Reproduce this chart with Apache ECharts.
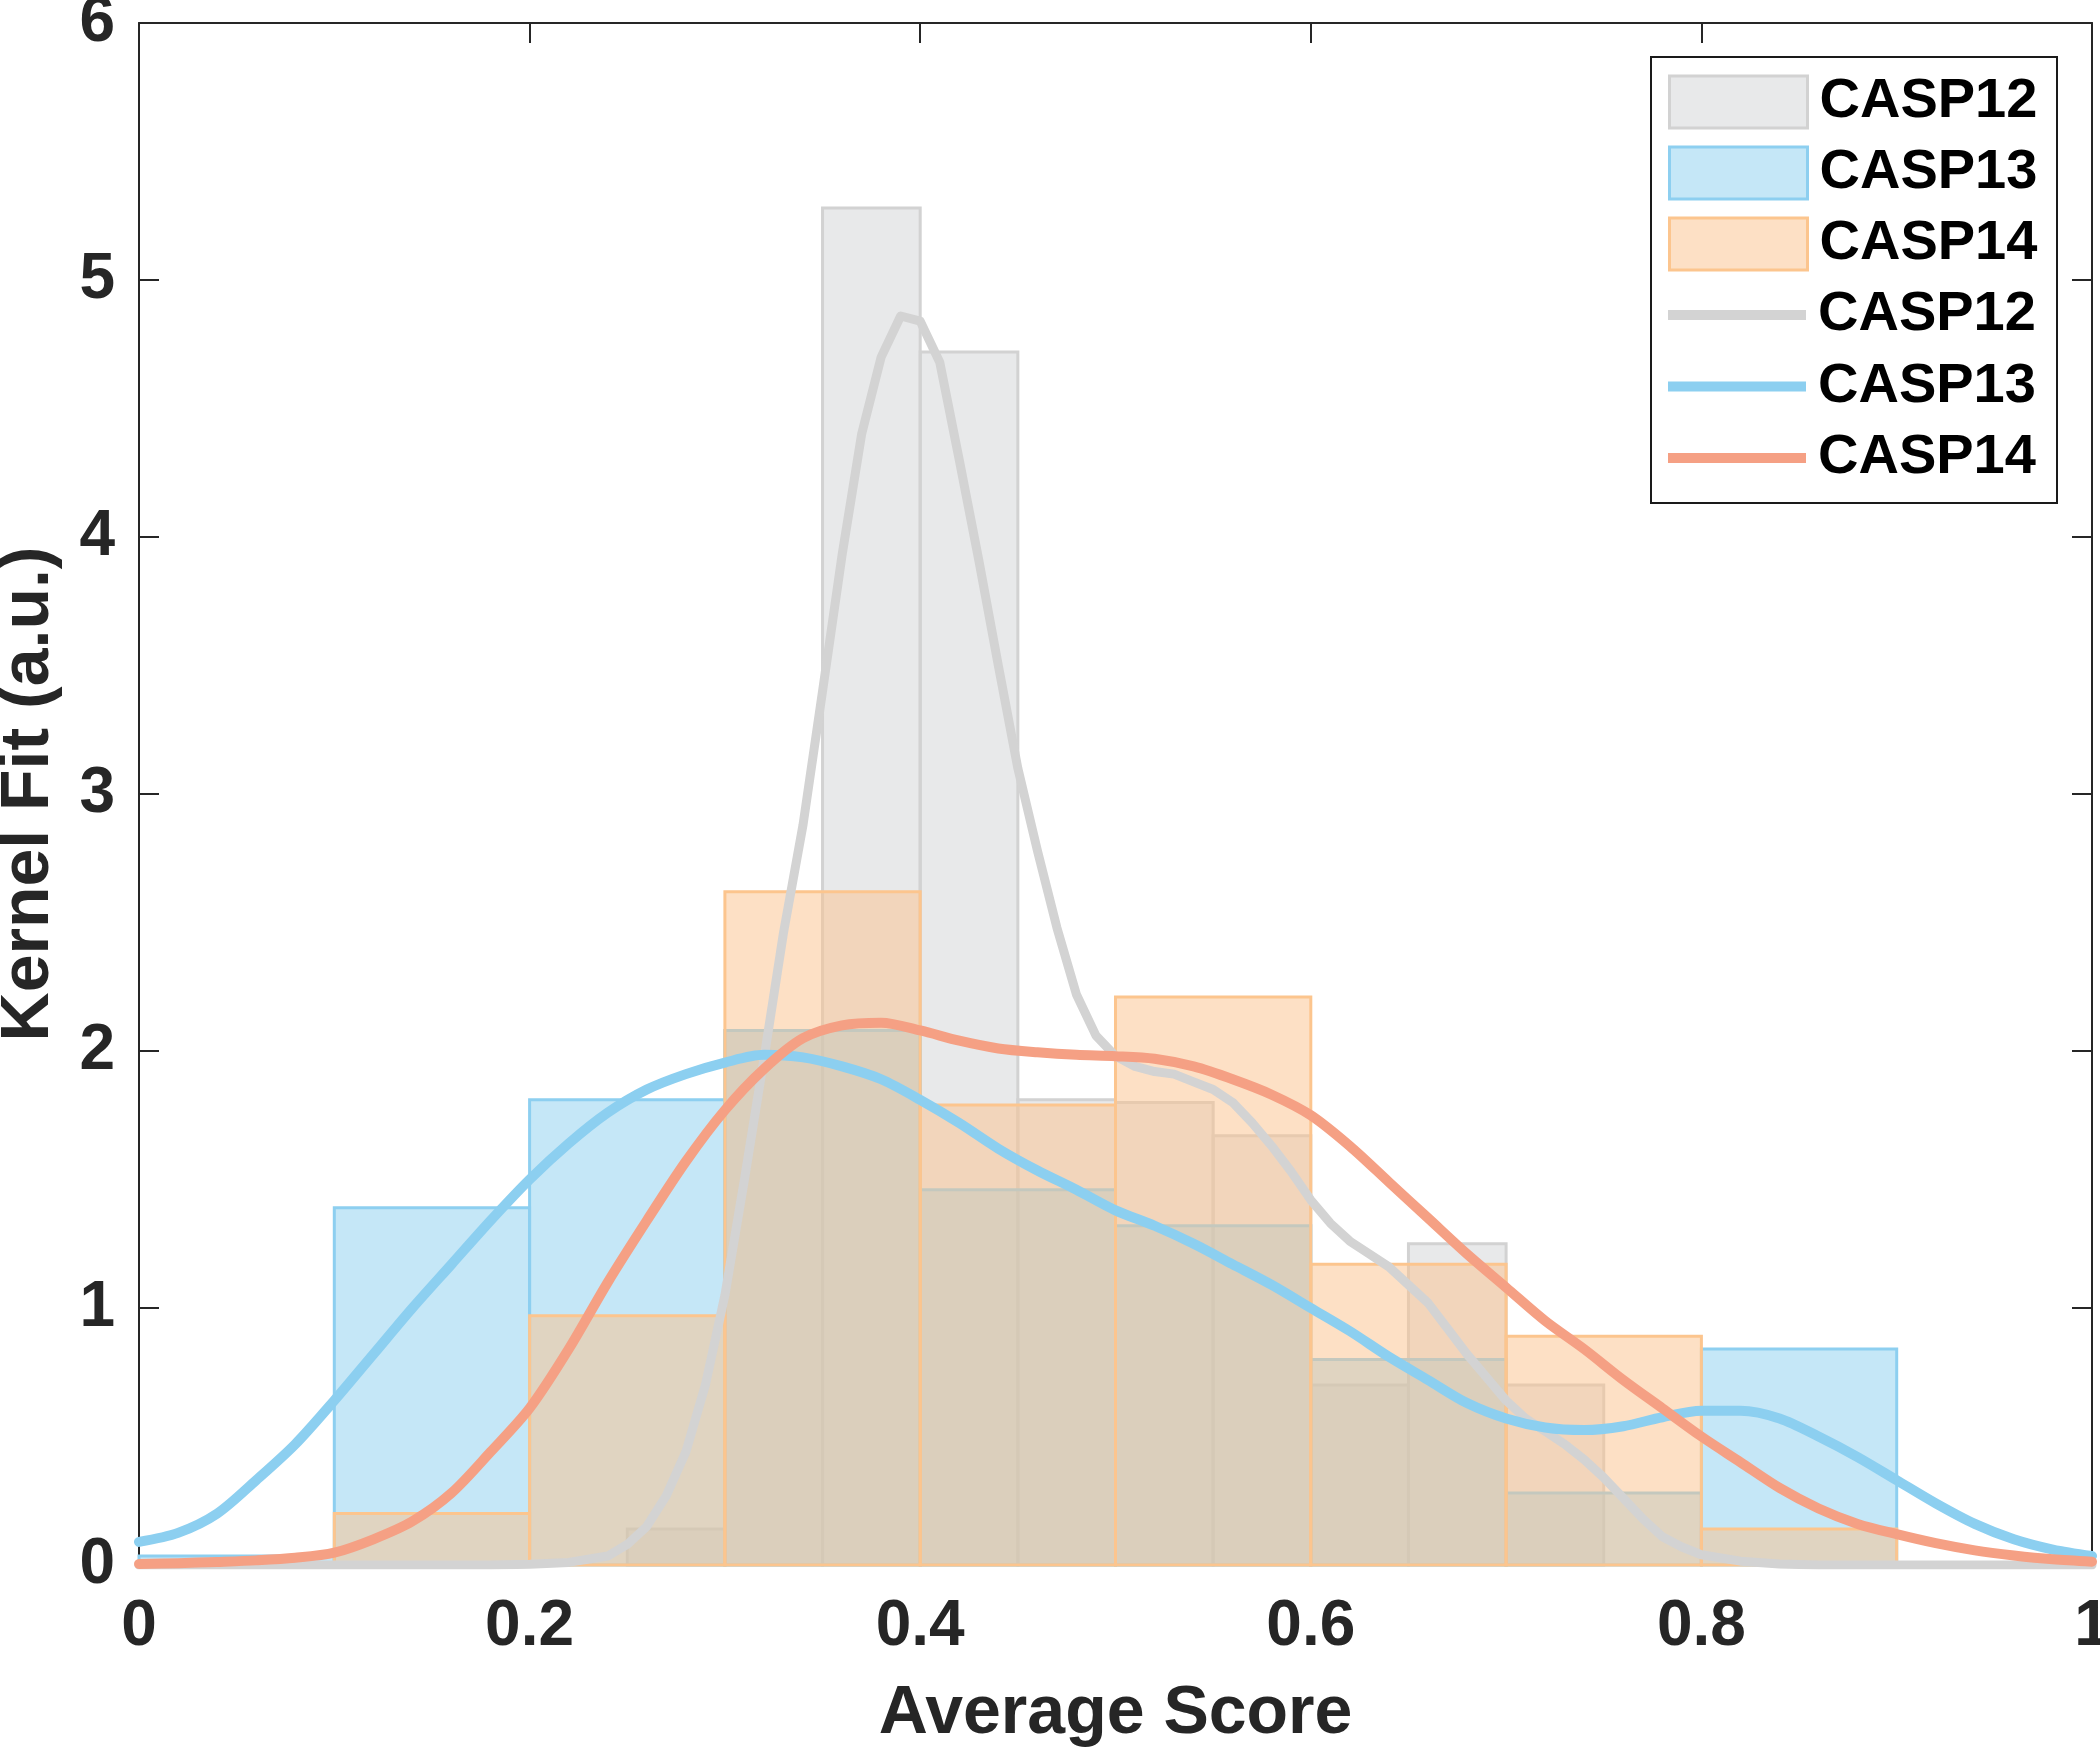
<!DOCTYPE html>
<html>
<head>
<meta charset="utf-8">
<script src="https://cdn.jsdelivr.net/npm/echarts/dist/echarts.min.js"></script>
<style>html,body{margin:0;padding:0;background:#fff;}#chart{width:2100px;height:1754px;}</style>
</head>
<body>
<div id="chart"></div>
<script>
// ---------- data ----------
// Histograms: bin left edges, bin right edges, heights (pdf)
const casp12BinLo = [0.25, 0.30, 0.35, 0.40, 0.45, 0.50, 0.55, 0.60, 0.65, 0.70];
const casp12BinHi = [0.30, 0.35, 0.40, 0.45, 0.50, 0.55, 0.60, 0.65, 0.70, 0.75];
const casp12Hist  = [0.14, 2.08, 5.28, 4.72, 1.81, 1.80, 1.67, 0.70, 1.25, 0.70];

const casp13BinLo = [0.0, 0.1, 0.2, 0.3, 0.4, 0.5, 0.6, 0.7, 0.8];
const casp13BinHi = [0.1, 0.2, 0.3, 0.4, 0.5, 0.6, 0.7, 0.8, 0.9];
const casp13Hist  = [0.035, 1.39, 1.81, 2.08, 1.46, 1.32, 0.80, 0.28, 0.84];

const casp14BinLo = [0.1, 0.2, 0.3, 0.4, 0.5, 0.6, 0.7, 0.8];
const casp14BinHi = [0.2, 0.3, 0.4, 0.5, 0.6, 0.7, 0.8, 0.9];
const casp14Hist  = [0.20, 0.97, 2.62, 1.79, 2.21, 1.17, 0.89, 0.14];

// Kernel fits
const kde12X = [0.00, 0.10, 0.18, 0.20, 0.22, 0.24, 0.25, 0.26, 0.27, 0.28, 0.29, 0.30, 0.31, 0.32, 0.33, 0.34, 0.35, 0.36, 0.37, 0.38, 0.39, 0.40, 0.41, 0.42, 0.43, 0.44, 0.45, 0.46, 0.47, 0.48, 0.49, 0.50, 0.51, 0.52, 0.53, 0.54, 0.55, 0.56, 0.57, 0.58, 0.59, 0.60, 0.61, 0.62, 0.63, 0.64, 0.65, 0.66, 0.67, 0.68, 0.69, 0.70, 0.71, 0.72, 0.73, 0.74, 0.75, 0.76, 0.77, 0.78, 0.79, 0.80, 0.82, 0.84, 0.86, 1.00];
const kde12Y = [0.00, 0.00, 0.00, 0.003, 0.01, 0.035, 0.08, 0.15, 0.27, 0.44, 0.70, 1.05, 1.50, 1.97, 2.46, 2.88, 3.40, 3.93, 4.40, 4.70, 4.86, 4.84, 4.68, 4.30, 3.91, 3.50, 3.10, 2.78, 2.48, 2.22, 2.06, 1.98, 1.94, 1.92, 1.91, 1.88, 1.85, 1.80, 1.72, 1.63, 1.53, 1.42, 1.33, 1.26, 1.21, 1.16, 1.09, 1.02, 0.92, 0.82, 0.73, 0.64, 0.57, 0.52, 0.47, 0.41, 0.34, 0.26, 0.18, 0.11, 0.07, 0.04, 0.015, 0.004, 0.00, 0.00];

const kdeX = [0.00, 0.02, 0.04, 0.06, 0.08, 0.10, 0.12, 0.14, 0.16, 0.18, 0.20, 0.22, 0.24, 0.26, 0.28, 0.30, 0.32, 0.34, 0.36, 0.38, 0.40, 0.42, 0.44, 0.46, 0.48, 0.50, 0.52, 0.54, 0.56, 0.58, 0.60, 0.62, 0.64, 0.66, 0.68, 0.70, 0.72, 0.74, 0.76, 0.78, 0.80, 0.82, 0.84, 0.86, 0.88, 0.90, 0.92, 0.94, 0.96, 0.98, 1.00];
const kde13Y = [0.09, 0.125, 0.20, 0.33, 0.47, 0.64, 0.82, 1.00, 1.17, 1.34, 1.50, 1.64, 1.76, 1.85, 1.91, 1.955, 1.985, 1.975, 1.94, 1.89, 1.81, 1.72, 1.62, 1.535, 1.46, 1.38, 1.32, 1.25, 1.17, 1.09, 1.00, 0.91, 0.81, 0.72, 0.63, 0.57, 0.535, 0.525, 0.54, 0.575, 0.60, 0.60, 0.57, 0.50, 0.42, 0.33, 0.24, 0.16, 0.10, 0.06, 0.035];
const kde14Y = [0.004, 0.007, 0.012, 0.018, 0.028, 0.048, 0.10, 0.17, 0.28, 0.44, 0.61, 0.84, 1.10, 1.34, 1.57, 1.77, 1.93, 2.05, 2.10, 2.11, 2.08, 2.04, 2.01, 1.995, 1.985, 1.98, 1.97, 1.94, 1.89, 1.83, 1.75, 1.63, 1.49, 1.35, 1.21, 1.08, 0.95, 0.84, 0.72, 0.61, 0.50, 0.40, 0.30, 0.22, 0.16, 0.12, 0.085, 0.057, 0.037, 0.022, 0.013];

const xTicks = [0, 0.2, 0.4, 0.6, 0.8, 1];
const yTicks = [0, 1, 2, 3, 4, 5, 6];
const legendNames = ['CASP12', 'CASP13', 'CASP14'];

// ---------- styling ----------
const FONT = "'Liberation Sans', Arial, Helvetica, sans-serif";
const AX = '#262626';
const C12 = {fill: 'rgba(209,211,213,0.5)', edge: '#d2d2d2', line: '#d3d3d3'};
const C13 = {fill: 'rgba(140,207,240,0.5)', edge: '#8dcff0', line: '#8ccff0'};
const C14 = {fill: 'rgba(251,193,139,0.5)', edge: '#fcc58e', line: '#f5a084'};

function histData(lo, hi, h) {
  return lo.map((v, i) => [v, hi[i], h[i]]);
}
function pairs(xs, ys) { return xs.map((v, i) => [v, ys[i]]); }

function histRender(c) {
  return function (params, api) {
    const x0 = api.value(0), x1 = api.value(1), h = api.value(2);
    const p0 = api.coord([x0, 0]);
    const p1 = api.coord([x1, h]);
    return {
      type: 'rect',
      shape: {x: p0[0], y: p1[1], width: p1[0] - p0[0], height: p0[1] - p1[1]},
      style: {fill: c.fill, stroke: c.edge, lineWidth: 3}
    };
  };
}

const tickStyle = {show: true, inside: true, length: 20, lineStyle: {color: AX, width: 2}};
const lineStyleAx = {show: true, onZero: false, lineStyle: {color: AX, width: 2}};
const labelStyle = {fontSize: 64, fontWeight: 'bold', color: AX, fontFamily: FONT};
const legendText = {fontSize: 56, fontWeight: 'bold', color: '#000', fontFamily: FONT, lineHeight: 56, padding: [12, 0, 0, 7]};

const chart = echarts.init(document.getElementById('chart'), null, {renderer: 'canvas'});
const option = {
  animation: false,
  backgroundColor: '#fff',
  grid: {left: 139, right: 8, top: 23, bottom: 189, containLabel: false, outerBoundsMode: 'none'},
  xAxis: [
    {type: 'value', min: 0, max: 1, interval: 0.2, position: 'bottom',
     axisLine: lineStyleAx, axisTick: tickStyle, splitLine: {show: false},
     axisLabel: Object.assign({margin: 30, hideOverlap: false, formatter: v => String(+v.toFixed(1))}, labelStyle),
     name: 'Average Score', nameLocation: 'middle', nameGap: 115,
     nameTextStyle: {fontSize: 68, fontWeight: 'bold', color: AX, fontFamily: FONT}},
    {type: 'value', min: 0, max: 1, interval: 0.2, position: 'top',
     axisLine: lineStyleAx, axisTick: tickStyle, splitLine: {show: false},
     axisLabel: {show: false}}
  ],
  yAxis: [
    {type: 'value', min: 0, max: 6, interval: 1, position: 'left',
     axisLine: lineStyleAx, axisTick: tickStyle, splitLine: {show: false},
     axisLabel: Object.assign({margin: 24}, labelStyle),
     name: 'Kernel Fit (a.u.)', nameLocation: 'middle', nameGap: 76, nameRotate: 90,
     nameTextStyle: {fontSize: 68, fontWeight: 'bold', color: AX, fontFamily: FONT}},
    {type: 'value', min: 0, max: 6, interval: 1, position: 'right',
     axisLine: lineStyleAx, axisTick: tickStyle, splitLine: {show: false},
     axisLabel: {show: false}}
  ],
  legend: [
    {orient: 'vertical', left: 1668, top: 68, padding: 0, itemWidth: 138, itemHeight: 52, itemGap: 3,
     selectedMode: false, textStyle: legendText,
     data: [
       {name: legendNames[0], icon: 'rect', itemStyle: {color: C12.fill, borderColor: C12.edge, borderWidth: 3}},
       {name: legendNames[1], icon: 'rect', itemStyle: {color: C13.fill, borderColor: C13.edge, borderWidth: 3}},
       {name: legendNames[2], icon: 'rect', itemStyle: {color: C14.fill, borderColor: C14.edge, borderWidth: 3}}
     ]},
    {orient: 'vertical', left: 1668, top: 281, padding: 0, itemWidth: 138, itemHeight: 10, itemGap: 3.5,
     selectedMode: false, textStyle: legendText,
     data: [
       {name: legendNames[0], icon: 'rect', itemStyle: {color: C12.line, borderWidth: 0}},
       {name: legendNames[1], icon: 'rect', itemStyle: {color: C13.line, borderWidth: 0}},
       {name: legendNames[2], icon: 'rect', itemStyle: {color: C14.line, borderWidth: 0}}
     ]}
  ],
  graphic: [
    {type: 'rect', z: 1, silent: true,
     shape: {x: 1651, y: 57, width: 406, height: 446},
     style: {fill: 'transparent', stroke: '#1a1a1a', lineWidth: 2}}
  ],
  series: [
    {name: legendNames[0], type: 'custom', renderItem: histRender(C12),
     encode: {x: [0, 1], y: 2}, data: histData(casp12BinLo, casp12BinHi, casp12Hist)},
    {name: legendNames[1], type: 'custom', renderItem: histRender(C13),
     encode: {x: [0, 1], y: 2}, data: histData(casp13BinLo, casp13BinHi, casp13Hist)},
    {name: legendNames[2], type: 'custom', renderItem: histRender(C14),
     encode: {x: [0, 1], y: 2}, data: histData(casp14BinLo, casp14BinHi, casp14Hist)},
    {name: legendNames[0], type: 'line', showSymbol: false, smooth: false,
     lineStyle: {color: C12.line, width: 9, join: 'round', cap: 'round'}, itemStyle: {color: C12.line},
     data: pairs(kde12X, kde12Y)},
    {name: legendNames[1], type: 'line', showSymbol: false, smooth: 0.3,
     lineStyle: {color: C13.line, width: 10, join: 'round', cap: 'round'}, itemStyle: {color: C13.line},
     data: pairs(kdeX, kde13Y)},
    {name: legendNames[2], type: 'line', showSymbol: false, smooth: 0.3,
     lineStyle: {color: C14.line, width: 10, join: 'round', cap: 'round'}, itemStyle: {color: C14.line},
     data: pairs(kdeX, kde14Y)}
  ]
};
chart.setOption(option);
</script>
</body>
</html>
